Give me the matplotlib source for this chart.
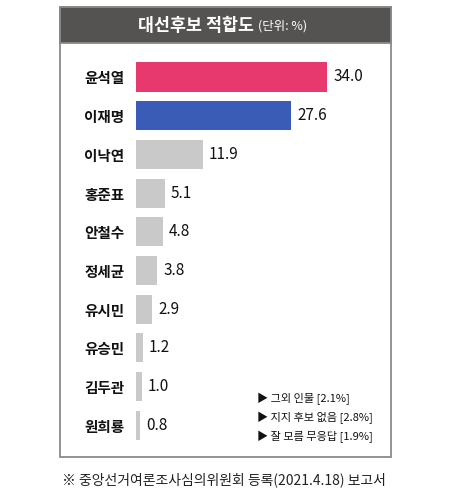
import numpy as np
import matplotlib
matplotlib.use("Agg")
import matplotlib.pyplot as plt
from matplotlib.patches import Rectangle

plt.rcParams['font.family'] = ['Noto Sans CJK KR', 'DejaVu Sans']

# data
names = ["윤석열", "이재명", "이낙연", "홍준표", "안철수", "정세균", "유시민", "유승민", "김두관", "원희룡"]
values = [34.0, 27.6, 11.9, 5.1, 4.8, 3.8, 2.9, 1.2, 1.0, 0.8]
bar_colors = ["#e8396f", "#3b5cb6"] + ["#c9c9c9"] * 8
notes = ["▶ 그외 인물 [2.1%]", "▶ 지지 후보 없음 [2.8%]", "▶ 잘 모름 무응답 [1.9%]"]
title = "대선후보 적합도"
unit = "(단위: %)"
footer = "※ 중앙선거여론조사심의위원회 등록(2021.4.18) 보고서"

W, H = 450, 495
fig = plt.figure(figsize=(W / 100, H / 100), dpi=100)
fig.patch.set_facecolor("white")


# helper: pixel coords (top-left origin) to figure fraction
def px(x, y):
    return x / W, 1 - y / H


# outer frame and dark header
box_l, box_t, box_r, box_b = 60, 7, 391, 457
head_b = 43
fig.patches.append(Rectangle(px(box_l, box_b), (box_r - box_l) / W, (box_b - box_t) / H,
                             transform=fig.transFigure, facecolor="white",
                             edgecolor="#8a8a8a", linewidth=1.3, zorder=0))
fig.patches.append(Rectangle(px(box_l, head_b), (box_r - box_l) / W, (head_b - box_t) / H,
                             transform=fig.transFigure, facecolor="#555351",
                             edgecolor="#8a8a8a", linewidth=1.3, zorder=1))

fig.text(*px(138, 26), title, color="white", fontsize=12.5, fontweight="bold",
         ha="left", va="center", zorder=3)
fig.text(*px(258, 26.5), unit, color="white", fontsize=9, ha="left", va="center", zorder=3)

# bar axes: x from bar start to frame edge, y spans the framed body
bar_x0 = 136
ax_top, ax_bot = head_b + 1, box_b - 1
step = 38.67
first_c = 77
ax = fig.add_axes([bar_x0 / W, 1 - ax_bot / H, (box_r - 2 - bar_x0) / W, (ax_bot - ax_top) / H])
ax.set_zorder(5)
ax.set_facecolor("none")
ypos = np.arange(len(names))
ax.barh(ypos, values, height=0.75, color=bar_colors)
ax.set_xlim(0, (box_r - 2 - bar_x0) / 5.62)
ax.set_ylim(9 + (ax_bot - (first_c + 9 * step)) / step, -(first_c - ax_top) / step)
for i, v in enumerate(values):
    ax.text(v + 1.1, i, f"{v:.1f}", fontsize=11, ha="left", va="center", color="#111111")
ax.set_yticks(ypos)
ax.set_yticklabels(names, fontsize=10.5, fontweight="bold", color="#111111")
ax.tick_params(axis="y", length=0, pad=8.5)
ax.set_xticks([])
for s in ax.spines.values():
    s.set_visible(False)

# notes inside the frame
for j, note in enumerate(notes):
    fig.text(*px(257, 399 + j * 19), note, fontsize=8, ha="left", va="center",
             color="#111111", zorder=3)

fig.text(*px(62, 480), footer, fontsize=10, ha="left", va="center", color="#222222")

fig.savefig("out.png", dpi=100)
